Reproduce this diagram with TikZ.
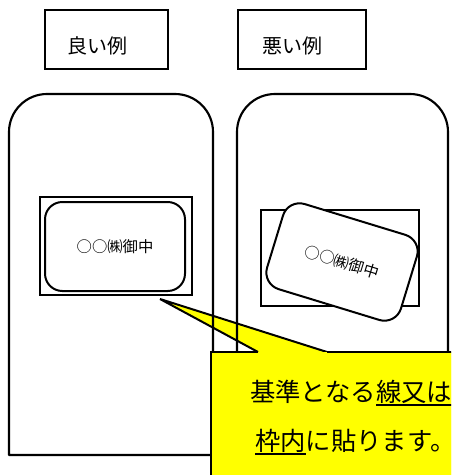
\documentclass[tikz,border=0pt]{standalone}
\usepackage{fontspec}
\newfontfamily\jp{Noto Sans CJK JP}
\definecolor{callyellow}{RGB}{255,255,0}
\newcommand\thickul[1]{\setbox0\hbox{#1}\rlap{\raisebox{-3.6pt}{\rule{\wd0}{1.3pt}}}\box0}
\begin{document}
\begin{tikzpicture}[x=0.75pt,y=-0.75pt,
  card/.style={line width=1.6pt,line join=round},
  labelbox/.style={draw,line width=0.8pt,minimum width=92.25pt,minimum height=44.25pt,inner sep=0pt},
  labeltext/.style={font=\jp\fontsize{15}{18}\selectfont,inner sep=0pt},
  frame/.style={draw,line width=1.5pt,inner sep=0pt},
  envelope/.style={draw,line width=1.5pt,fill=white,rounded corners=13pt,minimum width=105pt,minimum height=66.75pt,inner sep=0pt,font=\jp\fontsize{11.5}{14}\selectfont},
  calltext/.style={font=\jp\fontsize{19}{22}\selectfont,inner sep=0pt,anchor=west},
  callborder/.style={line width=1.5pt,line join=miter}]
\useasboundingbox (0,0) rectangle (451,475);
\clip (0,0) rectangle (451,475);

% label boxes
\node[labelbox] (goodbox) at (106.5,39.5) {};
\node[labeltext] (goodtxt) at (97,46) {良い例};
\node[labelbox,minimum width=96pt] (badbox) at (302,39.5) {};
\node[labeltext] (badtxt) at (292,46) {悪い例};

% callout pointer and box (underneath)
\coordinate (tip) at (160,299);
\coordinate (pa) at (258,352);
\coordinate (pb) at (327,352);
\coordinate (bl) at (211,352);
\coordinate (br) at (470,352);
\coordinate (bbl) at (211,490);
\coordinate (bbr) at (470,490);
\fill[callyellow] (tip) -- (pa) -- (bl) -- (bbl) -- (bbr) -- (br) -- (pb) -- cycle;
\draw[callborder] (pa) -- (tip) -- (pb);

% cards
\draw[card] (9,455) -- (9,132) arc[start angle=180,end angle=270,radius=38]
  -- (175,94) arc[start angle=270,end angle=360,radius=38] -- (213,455) -- cycle;
\draw[card] (237,490) -- (237,132) arc[start angle=180,end angle=270,radius=38]
  -- (410,94) arc[start angle=270,end angle=360,radius=38] -- (448,490);

% good example
\node[frame,minimum width=114pt,minimum height=73.5pt] (goodframe) at (116,246) {};
\node[envelope] (goodenv) at (115,246.5) {○○㈱御中};

% bad example
\node[frame,minimum width=118.5pt,minimum height=72pt] (badframe) at (340,258) {};
\node[envelope,rotate=-17] (badenv) at (342,262) {○○㈱御中};

% callout box over cards
\fill[callyellow] (bl) rectangle (bbr);
\draw[callborder] (pa) -- (bl) -- (bbl);
\draw[callborder] (pb) -- (br);

\node[calltext] (line1) at (250,393) {基準となる\thickul{線又は}};
\node[calltext] (line2) at (255,442) {\thickul{枠内}に貼ります。};
\end{tikzpicture}
\end{document}
